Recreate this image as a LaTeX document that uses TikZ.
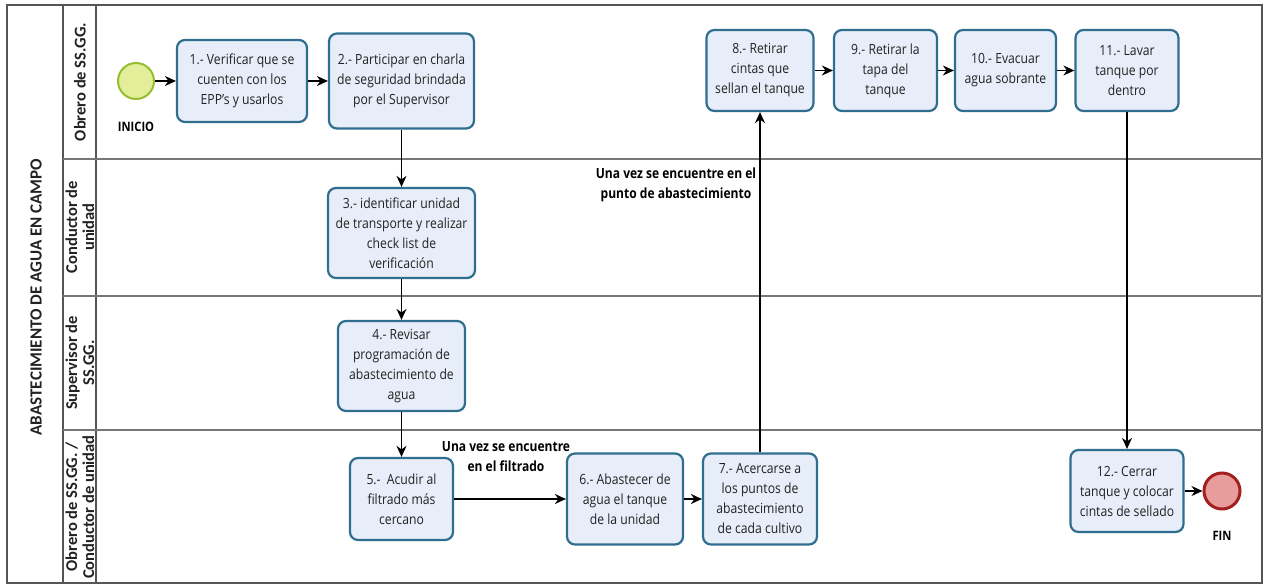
\documentclass[tikz,border=0pt]{standalone}
\usepackage{fontspec}
\setmainfont{Carlito}
\newfontfamily\taskfont[FakeStretch=0.87]{Open Sans}
\newfontfamily\notefont[FakeStretch=0.86]{Open Sans}
\usetikzlibrary{arrows.meta}

\definecolor{boxfill}{HTML}{E8EEF9}
\definecolor{boxline}{HTML}{2F6E8F}
\definecolor{startfill}{HTML}{E2EE9A}
\definecolor{startline}{HTML}{96BE32}
\definecolor{endfill}{HTML}{E89C9C}
\definecolor{endline}{HTML}{A2201F}
\definecolor{frameline}{HTML}{555555}
\definecolor{laneline}{HTML}{777777}
\definecolor{txt}{HTML}{222222}

\begin{document}
\begin{tikzpicture}[x=1pt,y=-1pt,
  task/.style={draw=boxline, line width=2.2pt, fill=boxfill, rounded corners=8pt,
    align=center, inner sep=0pt, text=txt, font=\taskfont\fontsize{14}{20}\selectfont},
  startev/.style={circle, draw=startline, fill=startfill, line width=2pt,
    minimum size=36pt, inner sep=0pt},
  endev/.style={circle, draw=endline, fill=endfill, line width=3pt,
    minimum size=36pt, inner sep=0pt},
  evlabel/.style={font=\notefont\bfseries\fontsize{13}{15}\selectfont, text=black},
  flow/.style={draw=black, line width=1.3pt, -{Stealth[length=11pt,width=10pt,inset=3.5pt]}},
  note/.style={align=center, font=\notefont\bfseries\fontsize{14}{20}\selectfont, text=black},
  lanetitle/.style={rotate=90, align=center, font=\bfseries\fontsize{16.5}{17}\selectfont, text=txt},
  frame/.style={draw=frameline, line width=1.5pt},
  lanesep/.style={draw=laneline, line width=2pt}
]
\useasboundingbox (0,0) rectangle (1267,585);
\fill[white] (0,0) rectangle (1267,585);

% pool frame, header columns and lane separators
\draw[frame] (7,5) rectangle (1262,583);
\draw[frame] (63,5) -- (63,583);
\draw[frame] (96,5) -- (96,583);
\draw[lanesep] (63,159) -- (1262,159);
\draw[lanesep] (63,296) -- (1262,296);
\draw[lanesep] (63,430) -- (1262,430);

% pool and lane titles
\node[rotate=90, font=\bfseries\fontsize{17}{18}\selectfont, text=txt] (pool) at (36,297)
  {ABASTECIMIENTO DE AGUA EN CAMPO};
\node[lanetitle] (lane1) at (80,82) {Obrero de SS.GG.};
\node[lanetitle] (lane2) at (80,227) {Conductor de\\unidad};
\node[lanetitle] (lane3) at (80,363) {Supervisor de\\SS.GG.};
\node[lanetitle] (lane4) at (80,507) {Obrero de SS.GG. /\\Conductor de unidad};

% events
\node[startev] (inicio) at (136,81) {};
\node[evlabel] (inicioLbl) at (136,127) {INICIO};
\node[endev] (fin) at (1222,491) {};
\node[evlabel] (finLbl) at (1222,536) {FIN};

% tasks
\node[task, minimum width=130pt, minimum height=82pt] (t1) at (242,81)
  {1.- Verificar que se\\cuenten con los\\EPP’s y usarlos};
\node[task, minimum width=145pt, minimum height=95pt] (t2) at (401.5,81)
  {2.- Participar en charla\\de seguridad brindada\\por el Supervisor};
\node[task, minimum width=147pt, minimum height=90pt] (t3) at (401.5,233)
  {3.- identificar unidad\\de transporte y realizar\\check list de\\verificación};
\node[task, minimum width=127pt, minimum height=90pt] (t4) at (401.5,366)
  {4.- Revisar\\programación de\\abastecimiento de\\agua};
\node[task, minimum width=103pt, minimum height=82pt] (t5) at (401.5,499)
  {5.-\ \ Acudir al\\filtrado más\\cercano};
\node[task, minimum width=116pt, minimum height=91pt] (t6) at (625,499)
  {6.- Abastecer de\\agua el tanque\\de la unidad};
\node[task, minimum width=114pt, minimum height=91pt] (t7) at (760,499)
  {7.- Acercarse a\\los puntos de\\abastecimiento\\de cada cultivo};
\node[task, minimum width=107pt, minimum height=81pt] (t8) at (760,70.5)
  {8.- Retirar\\cintas que\\sellan el tanque};
\node[task, minimum width=103pt, minimum height=81pt] (t9) at (885.5,70.5)
  {9.- Retirar la\\tapa del\\tanque};
\node[task, minimum width=101pt, minimum height=81pt] (t10) at (1005.5,70.5)
  {10.- Evacuar\\agua sobrante};
\node[task, minimum width=103pt, minimum height=81pt] (t11) at (1127,70.5)
  {11.- Lavar\\tanque por\\dentro};
\node[task, minimum width=113pt, minimum height=82pt] (t12) at (1127,491)
  {12.- Cerrar\\tanque y colocar\\cintas de sellado};

% condition notes
\node[note] (cond1) at (506,457) {Una vez se encuentre\\en el filtrado};
\node[note] (cond2) at (676,185) {Una vez se encuentre en el\\punto de abastecimiento};

% sequence flows
\draw[flow] (inicio) -- (t1);
\draw[flow] (t1) -- (t2);
\draw[flow] (t2) -- (t3);
\draw[flow] (t3) -- (t4);
\draw[flow] (t4) -- (t5);
\draw[flow] (t5) -- (t6);
\draw[flow] (t6) -- (t7);
\draw[flow] (t7) -- (t8);
\draw[flow] (t8) -- (t9);
\draw[flow] (t9) -- (t10);
\draw[flow] (t10) -- (t11);
\draw[flow] (t11) -- (t12);
\draw[flow] (t12) -- (fin);
\end{tikzpicture}
\end{document}
